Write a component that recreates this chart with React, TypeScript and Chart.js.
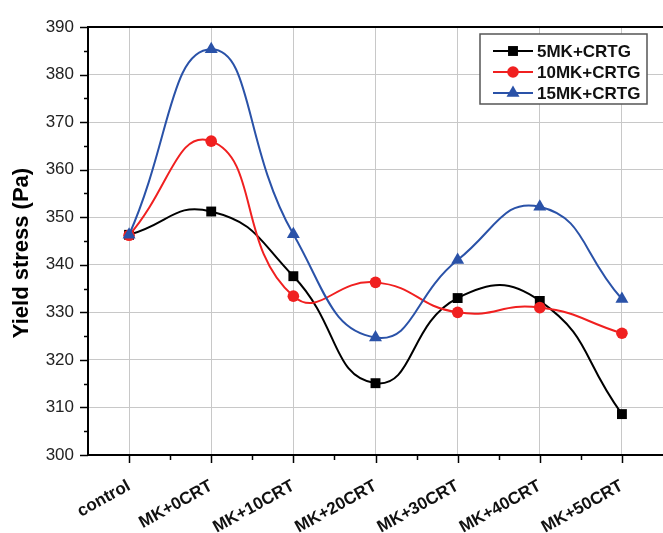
import React, { useEffect, useRef } from 'react';
import { Chart, registerables } from 'chart.js';

Chart.register(...registerables);

const categories = ['control', 'MK+0CRT', 'MK+10CRT', 'MK+20CRT', 'MK+30CRT', 'MK+40CRT', 'MK+50CRT'];
const mk5 = [346.3, 351.2, 337.6, 315.1, 333.0, 332.4, 308.6];
const mk10 = [346.2, 366.0, 333.4, 336.3, 330.0, 331.0, 325.6];
const mk15 = [346.3, 385.3, 346.4, 324.7, 341.0, 352.2, 332.8];
const seriesNames = ['5MK+CRTG', '10MK+CRTG', '15MK+CRTG'];
const yTitle = 'Yield stress (Pa)';
const yMin = 300;
const yMax = 390;
const yStep = 10;

const FONT = '"Liberation Sans", Arial, Helvetica, sans-serif';
const colors = ['#000000', '#f02020', '#2a52a8'];
const styles = ['rect', 'circle', 'triangle'];
const radii = [7, 5.8, 7.5];

function drawMarker(ctx: CanvasRenderingContext2D, style: string, x: number, y: number, r: number, color: string) {
  ctx.save();
  ctx.fillStyle = color;
  ctx.beginPath();
  if (style === 'rect') {
    const s = r * Math.SQRT1_2;
    ctx.rect(x - s, y - s, 2 * s, 2 * s);
  } else if (style === 'circle') {
    ctx.arc(x, y, r, 0, Math.PI * 2);
  } else {
    for (let i = 0; i < 3; i++) {
      const a = (i * 2 * Math.PI) / 3;
      const px = x + Math.sin(a) * r;
      const py = y - Math.cos(a) * r;
      if (i === 0) ctx.moveTo(px, py);
      else ctx.lineTo(px, py);
    }
    ctx.closePath();
  }
  ctx.fill();
  ctx.restore();
}

const framePlugin = {
  id: 'frameTicks',
  afterDraw(chart: any) {
    const ctx: CanvasRenderingContext2D = chart.ctx;
    const { left, right, top, bottom } = chart.chartArea;
    const xs = chart.scales.x;
    const ys = chart.scales.y;
    ctx.save();
    ctx.strokeStyle = '#000';
    ctx.lineWidth = 2;
    ctx.beginPath();
    ctx.moveTo(left - 1, top);
    ctx.lineTo(right, top);
    ctx.stroke();
    ctx.lineWidth = 1.5;
    // y ticks
    for (let v = yMin; v <= yMax; v += yStep / 2) {
      const py = Math.round(ys.getPixelForValue(v)) + 0.5;
      const major = (v - yMin) % yStep === 0;
      ctx.beginPath();
      ctx.moveTo(left - (major ? 8 : 4), py);
      ctx.lineTo(left, py);
      ctx.stroke();
    }
    // x ticks
    const n = categories.length;
    for (let i = 0; i < n; i++) {
      const px = Math.round(xs.getPixelForValue(i)) + 0.5;
      ctx.beginPath();
      ctx.moveTo(px, bottom);
      ctx.lineTo(px, bottom + 8);
      ctx.stroke();
      if (i < n - 1) {
        const mx = Math.round((xs.getPixelForValue(i) + xs.getPixelForValue(i + 1)) / 2) + 0.5;
        ctx.beginPath();
        ctx.moveTo(mx, bottom);
        ctx.lineTo(mx, bottom + 5);
        ctx.stroke();
      }
    }
    // y title
    ctx.save();
    ctx.translate(22, (top + bottom) / 2 + 12);
    ctx.rotate(-Math.PI / 2);
    ctx.fillStyle = '#000';
    ctx.font = `bold 22px ${FONT}`;
    ctx.textAlign = 'center';
    ctx.textBaseline = 'middle';
    ctx.fillText(yTitle, 0, 0);
    ctx.restore();
    // legend
    const bx = 480;
    const by = top + 7;
    const bw = 167;
    const bh = 70;
    ctx.fillStyle = '#ffffff';
    ctx.fillRect(bx, by, bw, bh);
    ctx.strokeStyle = '#555';
    ctx.lineWidth = 1.5;
    ctx.strokeRect(bx, by, bw, bh);
    chart.data.datasets.forEach((ds: any, i: number) => {
      const cy = by + 17 + i * 21;
      ctx.strokeStyle = ds.borderColor;
      ctx.lineWidth = 2;
      ctx.beginPath();
      ctx.moveTo(bx + 13, cy);
      ctx.lineTo(bx + 53, cy);
      ctx.stroke();
      drawMarker(ctx, ds.pointStyle, bx + 33, cy, ds.pointRadius, ds.borderColor);
      ctx.fillStyle = '#111';
      ctx.font = `bold 17px ${FONT}`;
      ctx.textAlign = 'left';
      ctx.textBaseline = 'middle';
      ctx.fillText(ds.label, bx + 57, cy + 1);
    });
    ctx.restore();
  },
};

export default function App() {
  const ref = useRef<HTMLCanvasElement | null>(null);
  useEffect(() => {
    if (!ref.current) return;
    const values = [mk5, mk10, mk15];
    const orders = [2, 1, 0];
    const chart = new Chart(ref.current, {
      type: 'line',
      data: {
        labels: categories,
        datasets: values.map((d, i) => ({
          label: seriesNames[i],
          data: d,
          borderColor: colors[i],
          backgroundColor: colors[i],
          pointBackgroundColor: colors[i],
          pointBorderColor: colors[i],
          pointBorderWidth: 0,
          pointStyle: styles[i] as any,
          pointRadius: radii[i],
          borderWidth: 2,
          tension: 0.5,
          fill: false,
          clip: false as any,
          order: orders[i],
        })),
      },
      options: {
        animation: false,
        responsive: false,
        maintainAspectRatio: false,
        devicePixelRatio: 1,
        layout: { autoPadding: false, padding: { top: 27, right: 0, left: 0, bottom: 0 } },
        plugins: {
          legend: { display: false },
          tooltip: { enabled: false },
        },
        scales: {
          x: {
            type: 'category',
            offset: true,
            grid: { offset: false, color: '#c8c8c8', lineWidth: 1, drawTicks: false },
            border: { display: true, color: '#000', width: 2 },
            ticks: {
              autoSkip: false,
              maxRotation: 29,
              minRotation: 29,
              padding: 21,
              color: '#111',
              font: { family: FONT, size: 17, weight: 'bold' },
            },
            afterFit: (scale: any) => {
              scale.height = 78;
              scale.paddingRight = 0;
              scale.paddingLeft = 0;
            },
          },
          y: {
            min: yMin,
            max: yMax,
            grid: { color: '#c8c8c8', lineWidth: 1, drawTicks: false },
            border: { display: true, color: '#000', width: 2 },
            ticks: {
              stepSize: yStep,
              padding: 14,
              color: '#222',
              font: { family: FONT, size: 17 },
            },
            title: { display: false },
            afterFit: (scale: any) => {
              scale.width = 88;
            },
          },
        },
      },
      plugins: [framePlugin],
    });
    return () => chart.destroy();
  }, []);
  return (
    <div style={{ position: 'fixed', left: 0, top: 0, width: 663, height: 533, background: '#fff' }}>
      <canvas ref={ref} width={663} height={533} style={{ display: 'block', width: 663, height: 533 }} />
    </div>
  );
}
